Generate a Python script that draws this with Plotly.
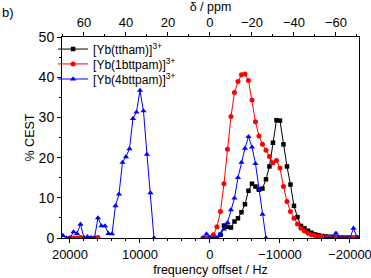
import plotly.graph_objects as go

# ---------------- data ----------------
black_hz = [-1000, -1500, -2000, -2500, -3000, -3500, -4000, -4500, -5000, -5500,
            -6000, -6500, -7000, -7500, -8000, -8500, -9000, -9500, -10000, -10500,
            -11000, -11500, -12000, -12500, -13000, -13500, -14000, -14500, -15000, -15500,
            -16000, -16500, -17000, -17500, -18000, -18500, -19000, -19500, -20000, -20500, -21000]
black_val = [0, 0.8, 3.1, 2.8, 2.6, 4.1, 4.9, 6.4, 8.4, 11.75,
             13.5, 12.8, 12.0, 12.3, 14.6, 17.8, 23.7, 29.3, 29.2, 23.3,
             17.8, 13.3, 8.0, 5.2, 3.0, 2.4, 1.8, 1.3, 0.9, 0.7,
             0.5, 0.4, 0.3, 0.3, 0.2, 0.1, 0.1, 0.1, 0, 0, 0]

red_hz = [20000, 19500, 19000, 18500, 18000, 17500, 17000, 16500, 16000, None,
          1000, 500, 0, -500, -1000, -1500, -2000, -2500, -3000, -3500,
          -4000, -4500, -5000, -5500, -6000, -6500, -7000, -7500, -8000, -8500,
          -9000, -9500, -10000, -10500, -11000, -11500, -12000, -12500, -13000, -13500,
          -14000, -14500, -15000, -15500, -16000, -16500, -17000, -17500, -18000, -18500,
          -19000, -19500, -20000, -20500, -21000]
red_val = [0, 0, 0, 0.1, 0, 0, 0, 0, 0.1, None,
           0, 0, 0.2, 0.8, 2.8, 6.6, 13.5, 22.1, 30.2, 36.2,
           38.9, 40.6, 40.8, 39.2, 34.3, 28.9, 25.4, 23.3, 21.8, 20.3,
           18.7, 19.25, 17.4, 12.8, 9.1, 6.6, 4.9, 3.5, 2.4, 1.75,
           1.2, 0.8, 0.6, 0.4, 0.3, 0.2, 0.2, 0.1, 0.1, 0.1,
           0.1, 0.1, 0.1, 0.1, 0.1]

blue_hz = [21000, 20500, 20000, 19500, 19000, 18500, 18000, 17500, 17000, 16500,
           16000, 15500, 15000, 14500, 14000, 13500, 13000, 12500, 12000, 11500,
           11000, 10500, 10000, 9500, 9000, 8500, 8000, None,
           1000, 500, 0, -500, -1000, -1500, -2000, -2500, -3000, -3500,
           -4000, -4500, -5000, -5500, -6000, -6500, -7000, -7500, -8000, None,
           -16500, -17000, -17500, -18000, -18500, -19000, -19500, -20000, -20500, -21000]
blue_val = [0.6, 0, 0, 1.5, 1.1, 3.4, 0, 0.3, 0, 0,
            5.0, 3.0, 3.0, 1.1, 1.0, 8.0, 10.9, 18.8, 20.2, 22.2,
            29.7, 31.3, 36.7, 31.6, 20.8, 11.2, 0, None,
            0, 1.0, 0, 0, 0, 1.0, 2.2, 3.8, 7.0, 9.9,
            15.0, 18.8, 22.3, 25.2, 22.6, 18.5, 12.2, 5.9, 0, None,
            0, 0, 0, 1.2, 0, 0, 0, 0, 2.4, 0.2]

series_names = ["[Yb(ttham)]<sup>3+</sup>", "[Yb(1bttpam)]<sup>3+</sup>", "[Yb(4bttpam)]<sup>3+</sup>"]

hz_ticks = [20000, 10000, 0, -10000, -20000]
hz_labels = ["20000", "10000", "0", "\u221210000", "\u221220000"]
ppm_ticks = [60, 40, 20, 0, -20, -40, -60]
ppm_labels = ["60", "40", "20", "0", "\u221220", "\u221240", "\u221260"]
MHZ = 300.0  # Hz per ppm

hz_range = [21140, -21290]

FONT = "Arial, Liberation Sans, sans-serif"

fig = go.Figure()
styles = [("black", "square", 4.5), ("#ff0000", "circle", 5), ("#0000ff", "triangle-up", 5.5)]
legend_ids = ["legend", "legend2", "legend3"]
for name, xs, ys, (col, sym, sz), lg in zip(series_names,
                                            [black_hz, red_hz, blue_hz],
                                            [black_val, red_val, blue_val], styles, legend_ids):
    fig.add_trace(go.Scatter(x=xs, y=ys, mode="lines+markers", name=name, legend=lg,
                             line=dict(color=col, width=1),
                             marker=dict(symbol=sym, size=sz, color=col, line=dict(width=0)),
                             connectgaps=False))

fig.add_trace(go.Scatter(x=[hz_range[0] / MHZ], y=[None], xaxis="x2", showlegend=False,
                         mode="markers", hoverinfo="skip"))

axis_common = dict(showline=True, linecolor="black", linewidth=1, showgrid=False,
                   zeroline=False, ticks="outside", ticklen=4, tickwidth=1, tickcolor="black",
                   ticklabeloverflow="allow")


def legend_box(ypos):
    return dict(x=-0.03, y=ypos, xanchor="left", yanchor="middle", bgcolor="rgba(0,0,0,0)",
                font=dict(family=FONT, size=12, color="black"))


fig.update_layout(
    width=371, height=278,
    margin=dict(l=62, r=12, t=37, b=40),
    paper_bgcolor="white", plot_bgcolor="white",
    font=dict(family=FONT, color="black", size=12),
    showlegend=True,
    legend=legend_box(0.940),
    legend2=legend_box(0.866),
    legend3=legend_box(0.791),
    xaxis=dict(range=hz_range, tickmode="array", tickvals=hz_ticks, ticktext=hz_labels,
               mirror=True, automargin=False,
               tickfont=dict(family=FONT, size=13, color="black"),
               minor=dict(tickmode="linear", tick0=0, dtick=2000, ticks="outside",
                          ticklen=2, tickcolor="black"),
               title=dict(text="frequency offset / Hz", font=dict(family=FONT, size=12.5),
                          standoff=4),
               **axis_common),
    xaxis2=dict(overlaying="x", side="top", anchor="y", automargin=False,
                range=[hz_range[0] / MHZ, hz_range[1] / MHZ],
                tickmode="array", tickvals=ppm_ticks, ticktext=ppm_labels,
                tickfont=dict(family=FONT, size=13, color="black"),
                minor=dict(tickmode="linear", tick0=0, dtick=10, ticks="outside",
                           ticklen=2, tickcolor="black"),
                title=dict(text="δ / ppm", font=dict(family=FONT, size=12.5), standoff=0),
                **axis_common),
    yaxis=dict(range=[0, 50], tickmode="linear", tick0=0, dtick=10, mirror=True,
               automargin=False,
               tickfont=dict(family=FONT, size=14, color="black"),
               minor=dict(tickmode="linear", tick0=0, dtick=5, ticks="outside",
                          ticklen=2, tickcolor="black"),
               title=dict(text="% CEST", font=dict(family=FONT, size=12.5), standoff=1),
               **axis_common),
    annotations=[dict(text="b)", xref="paper", yref="paper", x=-0.209, y=1.124,
                      xanchor="left", yanchor="middle", showarrow=False,
                      font=dict(family=FONT, size=13, color="black"))],
)

fig.write_html("out.html", config={"displayModeBar": False},
               post_script="document.body.style.margin='0';document.body.style.overflow='hidden';")
